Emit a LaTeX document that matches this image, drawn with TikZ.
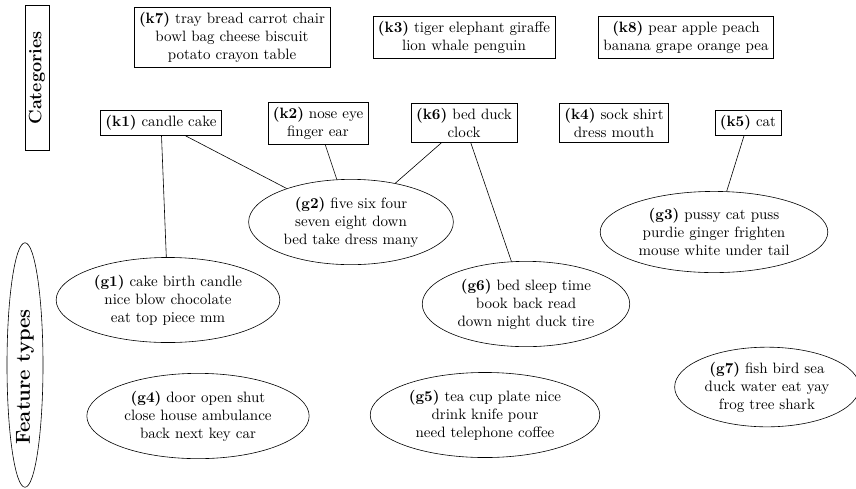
\documentclass[tikz,border=0pt]{standalone}
\usetikzlibrary{shapes.geometric}
\begin{document}
\begin{tikzpicture}[x=0.6667pt, y=-0.6667pt,
  cat/.style={draw, align=center},
  feat/.style={draw, ellipse, align=center},
  axisbox/.style={draw, rotate=90, minimum width=97pt, minimum height=16pt, inner sep=1pt, font=\large\bfseries},
  axisell/.style={draw, ellipse, rotate=90, minimum width=163pt, minimum height=24pt, inner sep=0pt},
  axistext/.style={rotate=90, inner sep=0pt, font=\fontsize{13.5}{16}\selectfont\bfseries}]
\useasboundingbox (0,0) rectangle (856,488);
% axis labels
\node[axisbox] (cats) at (37,78) {Categories};
\node[axisell] (feats) at (25,365) {};
\node[axistext] (featlabel) at (25,377) {Feature types};
% categories
\node[cat] (k7) at (232,37) {\textbf{(k7)} tray bread carrot chair\\bowl bag cheese biscuit\\potato crayon table};
\node[cat] (k3) at (464,37) {\textbf{(k3)} tiger elephant giraffe\\lion whale penguin};
\node[cat] (k8) at (686,37) {\textbf{(k8)} pear apple peach\\banana grape orange pea};
\node[cat] (k1) at (161,123) {\textbf{(k1)} candle cake};
\node[cat] (k2) at (318,123) {\textbf{(k2)} nose eye\\finger ear};
\node[cat] (k6) at (464,123) {\textbf{(k6)} bed duck\\clock};
\node[cat] (k4) at (614,123) {\textbf{(k4)} sock shirt\\dress mouth};
\node[cat] (k5) at (748,123) {\textbf{(k5)} cat};
% feature types
\node[feat] (g1) at (168,300) {\textbf{(g1)} cake birth candle\\nice blow chocolate\\eat top piece mm};
\node[feat] (g2) at (351,222) {\textbf{(g2)} five six four\\seven eight down\\bed take dress many};
\node[feat] (g3) at (714,232) {\textbf{(g3)} pussy cat puss\\purdie ginger frighten\\mouse white under tail};
\node[feat] (g6) at (526,304) {\textbf{(g6)} bed sleep time\\book back read\\down night duck tire};
\node[feat] (g4) at (198,416) {\textbf{(g4)} door open shut\\close house ambulance\\back next key car};
\node[feat] (g5) at (485,415) {\textbf{(g5)} tea cup plate nice\\drink knife pour\\need telephone coffee};
\node[feat, inner sep=2pt] (g7) at (767,387) {\textbf{(g7)} fish bird sea\\duck water eat yay\\frog tree shark};
% connectors
\draw (k1) -- (g1);
\draw (k1) -- (g2);
\draw (k2) -- (g2);
\draw (k6) -- (g2);
\draw (k6) -- (g6);
\draw (k5) -- (g3);
\end{tikzpicture}
\end{document}
